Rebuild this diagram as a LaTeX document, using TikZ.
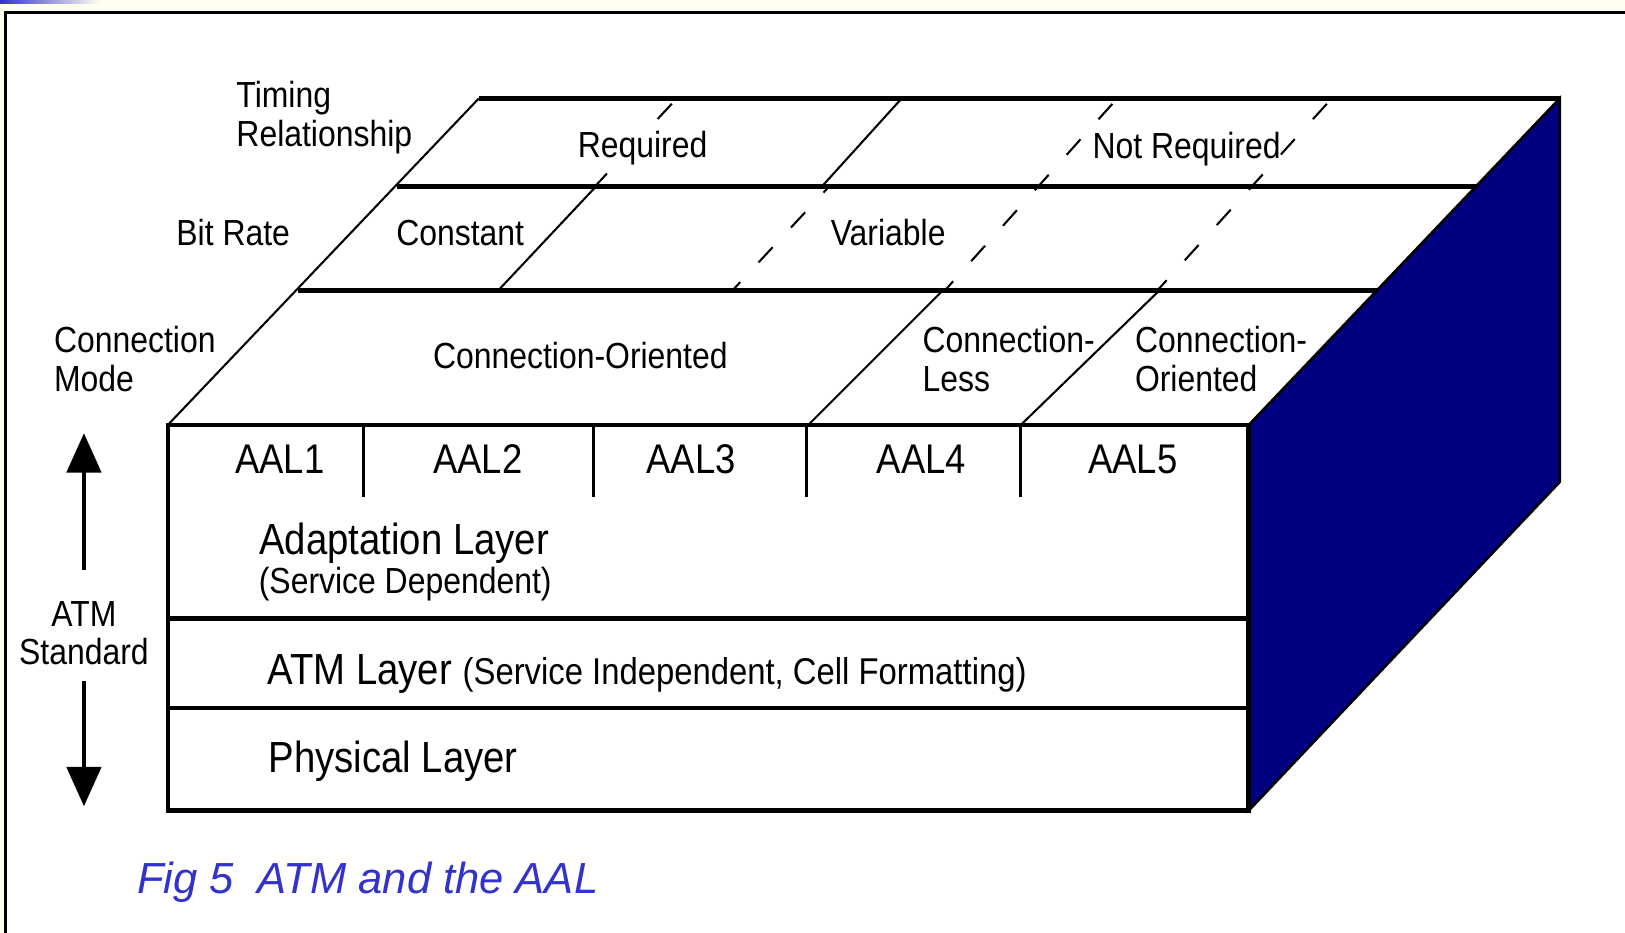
\documentclass[tikz,border=0pt]{standalone}
\usepackage{fontspec}
\newfontfamily\pixfont{Liberation Sans}[FakeStretch=0.88]
\newfontfamily\capfont{Liberation Sans}
\usetikzlibrary{arrows.meta}
\definecolor{pagecream}{HTML}{FFFFF0}
\definecolor{sidenavy}{HTML}{000080}
\definecolor{capblue}{HTML}{3333CC}

\begin{document}
\begin{tikzpicture}[x=1pt,y=-1pt,
    lab/.style={font=\pixfont\fontsize{35}{37.5}\selectfont,inner sep=0pt},
    big/.style={font=\pixfont\fontsize{42}{46}\selectfont,inner sep=0pt},
    aal/.style={font=\pixfont\fontsize{40}{44}\selectfont,inner sep=0pt,anchor=base},
    edge/.style={line width=4.5pt},
    thin/.style={line width=2pt},
    hidden/.style={line width=2pt,dash pattern=on 20pt off 26pt,dash phase=39pt},
    stdarrow/.style={line width=4pt,-{Triangle[length=38pt,width=33pt]}}]
  \useasboundingbox (0,0) rectangle (1568,900);
  \fill[pagecream] (0,0) rectangle (1568,900);
  \shade[left color=capblue,right color=pagecream] (0,0) rectangle (97,3);
  \fill[white] (5,12) rectangle (1568,900);
  \draw[line width=3pt] (5,900) -- (5,12) -- (1568,12);

  \filldraw[fill=sidenavy,line width=2.5pt] (1205,410) -- (1505,95) -- (1505,465) -- (1205,782) -- cycle;

  \draw[thin] (162,410) -- (462,95);
  \draw[edge] (462,95) -- (1505,95);
  \draw[edge] (383,180) -- (1425,180);
  \draw[edge] (288,280) -- (1330,280);
  \draw[hidden] (653,95) -- (574,180);
  \draw[thin] (575,180) -- (481,280);
  \draw[thin] (870,95) -- (793,180);
  \draw[hidden,dash phase=12pt] (800,180) -- (707,280);
  \draw[hidden] (1078,95) -- (912,280);
  \draw[thin] (910,280) -- (780,410);
  \draw[hidden] (1285,95) -- (1117,280);
  \draw[thin] (1119,280) -- (985,410);

  \draw[edge] (162,410) rectangle (1205,782);
  \draw[edge] (162,597) -- (1205,597);
  \draw[edge] (162,683) -- (1205,683);
  \foreach \x in {351,573,778,985}
    \draw[line width=3pt] (\x,410) -- (\x,480);

  \node[lab,anchor=north west,align=left] (timing) at (228,78) {Timing\\Relationship};
  \node[lab,anchor=base] (bitrate) at (225,237) {Bit Rate};
  \node[lab,anchor=north west,align=left] (connmode) at (52,315) {Connection\\Mode};
  \node[lab,fill=white,anchor=base] (required) at (620,152) {Required};
  \node[lab,anchor=base] (notrequired) at (1145,153) {Not Required};
  \node[lab,anchor=base] (constant) at (444,237) {Constant};
  \node[lab,anchor=base] (variable) at (857,237) {Variable};
  \node[lab,anchor=base] (connoriented) at (560,356) {Connection-Oriented};
  \node[lab,anchor=north west,align=left] (connless) at (890,315) {Connection-\\Less};
  \node[lab,anchor=north west,align=left] (connoriented2) at (1095,315) {Connection-\\Oriented};

  \foreach \x/\n in {270/1,461/2,667/3,889/4,1093/5}
    \node[aal] (aal\n) at (\x,457) {AAL\n};
  \node[big,anchor=base] (adapt) at (390,535) {Adaptation Layer};
  \node[lab,anchor=base] (adaptsub) at (391,573) {(Service Dependent)};
  \node[big,anchor=base west] (atmlayer) at (258,660) {ATM Layer {\fontsize{36}{38}\selectfont(Service Independent, Cell Formatting)}};
  \node[big,anchor=base west] (physical) at (259,745) {Physical Layer};

  \node[lab,align=center] (standard) at (81,611) {ATM\\Standard};
  \coordinate (uptip) at (81,418);
  \coordinate (downtip) at (81,778);
  \draw[stdarrow,shorten <=30pt] (standard.north) -- (uptip);
  \draw[stdarrow,shorten <=15pt] (standard.south) -- (downtip);

  \node[font=\capfont\itshape\fontsize{42}{44}\selectfont,text=capblue,anchor=base west,inner sep=0pt] (caption) at (132,862) {Fig 5\ \ ATM and the AAL};
\end{tikzpicture}
\end{document}
